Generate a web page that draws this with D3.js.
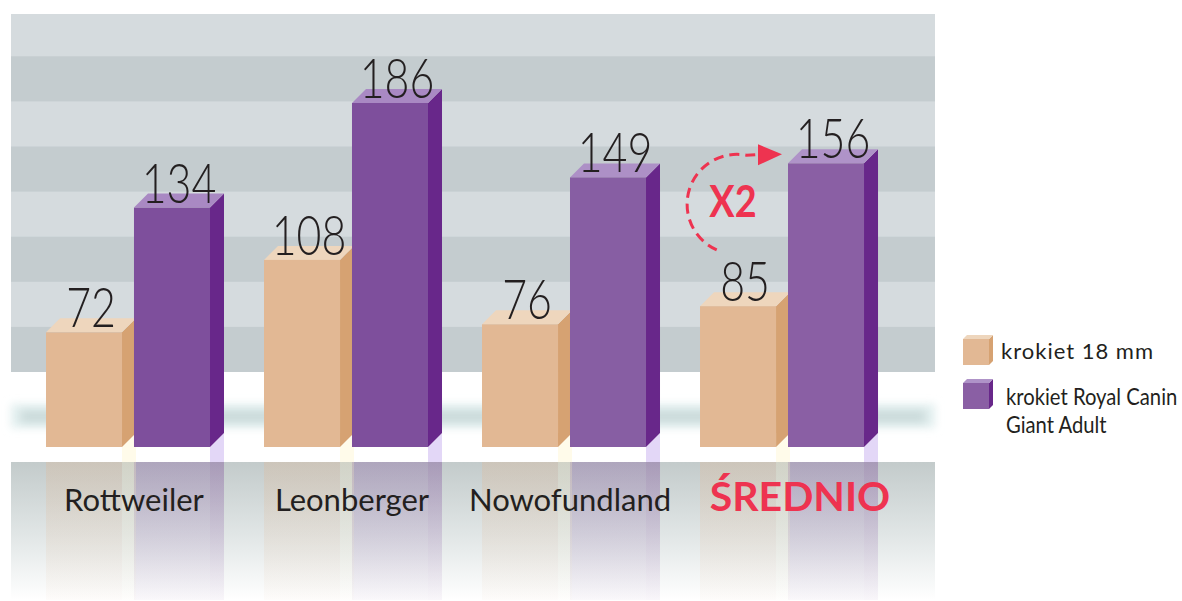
<!DOCTYPE html>
<html>
<head>
<meta charset="utf-8">
<script src="https://cdn.jsdelivr.net/npm/d3@7"></script>
<style>
  body { margin: 0; background: #fff; }
  text { font-family: Lato, "Open Sans", sans-serif; }
</style>
</head>
<body>
<div id="chart-area"></div>
<script>
// chart values
let categories = ["Rottweiler", "Leonberger", "Nowofundland", "ŚREDNIO"];
let series = ["krokiet 18 mm", "krokiet Royal Canin Giant Adult"];
let valuesSmall = [72, 108, 76, 85];     // krokiet 18 mm
let valuesRoyal = [134, 186, 149, 156];  // krokiet Royal Canin Giant Adult
let legendLines = [["krokiet 18 mm"], ["krokiet Royal Canin", "Giant Adult"]];
let multiplierLabel = "X2";

let width = 1182, height = 601;

// panel / floor layout
let panel = {left: 11, right: 935, top: 14, wallBottom: 372, floorTop: 462, bottom: 600};
let baseY = 447;   // where bars stand
let depth = 14;    // 3d offset of bars

let svg = d3.select("#chart-area").append("svg")
    .attr("width", width)
    .attr("height", height);

let defs = svg.append("defs");

// floor gradient
let floorGrad = defs.append("linearGradient").attr("id", "floor-grad")
    .attr("x1", 0).attr("y1", 0).attr("x2", 0).attr("y2", 1);
floorGrad.append("stop").attr("offset", "0%").attr("stop-color", "#c3cbcb");
floorGrad.append("stop").attr("offset", "55%").attr("stop-color", "#e2e7e7");
floorGrad.append("stop").attr("offset", "100%").attr("stop-color", "#ffffff");

function reflectGrad(id, color) {
    let g = defs.append("linearGradient").attr("id", id)
        .attr("x1", 0).attr("y1", 0).attr("x2", 0).attr("y2", 1);
    g.append("stop").attr("offset", "0%").attr("stop-color", color).attr("stop-opacity", 0.3);
    g.append("stop").attr("offset", "100%").attr("stop-color", color).attr("stop-opacity", 0.04);
}
reflectGrad("refl-tan", "#e2b894");
reflectGrad("refl-tan-side", "#f3e6c0");
reflectGrad("refl-purple", "#7e4f9c");
reflectGrad("refl-purple-side", "#6a2a8c");

defs.append("filter").attr("id", "blur")
    .attr("x", "-5%").attr("y", "-100%").attr("width", "110%").attr("height", "300%")
    .append("feGaussianBlur").attr("stdDeviation", 4);

// ---- background wall with stripes
let stripeH = 45.1;
let stripes = d3.range(0, 8).map(i => panel.wallBottom - (i + 1) * stripeH);
svg.append("rect")
    .attr("x", panel.left).attr("y", panel.top)
    .attr("width", panel.right - panel.left).attr("height", panel.wallBottom - panel.top)
    .attr("fill", "#d5dbde");
svg.selectAll(".stripe")
    .data(stripes.filter((d, i) => i % 2 === 0))
    .enter().append("rect")
    .attr("class", "stripe")
    .attr("x", panel.left)
    .attr("y", d => Math.max(d, panel.top))
    .attr("width", panel.right - panel.left)
    .attr("height", d => stripeH - Math.max(0, panel.top - d))
    .attr("fill", "#c4cccf");

// white floor band with a soft teal shadow line
svg.append("rect")
    .attr("x", panel.left).attr("y", 404)
    .attr("width", panel.right - panel.left).attr("height", 24)
    .attr("fill", "#e2efef")
    .attr("filter", "url(#blur)");
svg.append("rect")
    .attr("x", panel.left + 10).attr("y", 411)
    .attr("width", panel.right - panel.left - 20).attr("height", 11)
    .attr("fill", "#c9d9d9")
    .attr("filter", "url(#blur)");

// lower floor
svg.append("rect")
    .attr("x", panel.left).attr("y", panel.floorTop)
    .attr("width", panel.right - panel.left).attr("height", panel.bottom - panel.floorTop)
    .attr("fill", "url(#floor-grad)");

// ---- scales
let x0 = d3.scaleBand()
    .domain(categories)
    .range([46, 879])
    .paddingInner(0.179);

let x1 = d3.scaleBand()
    .domain(series)
    .range([0, 164])
    .paddingInner(0.136);

let y = d3.scaleLinear()
    .domain([15, 186])
    .range([baseY, 103]);

let bw = x1.bandwidth();

let barData = [];
categories.forEach((c, i) => {
    barData.push({cat: c, s: series[0], v: valuesSmall[i], i: i});
    barData.push({cat: c, s: series[1], v: valuesRoyal[i], i: i});
});

let purpleFront = ["#7e4f9c", "#7e4f9c", "#875ea3", "#8a5fa4"];
let purpleTop = ["#a989c3", "#a989c3", "#ad90c6", "#af93c8"];
let styles = {
    [series[0]]: {front: () => "#e2b894", side: "#d6a272", top: () => "#eed6bd",
                  refl: "url(#refl-tan)", reflSide: "url(#refl-tan-side)", gap: "#fffbea"},
    [series[1]]: {front: i => purpleFront[i], side: "#68278a", top: i => purpleTop[i],
                  refl: "url(#refl-purple)", reflSide: "url(#refl-purple-side)", gap: "#e3d7f7"}
};

let bx = d => x0(d.cat) + x1(d.s);

// reflections on the floor
let refl = svg.append("g").attr("class", "reflections");
refl.selectAll(".refl-front")
    .data(barData).enter().append("rect")
    .attr("x", d => bx(d)).attr("y", panel.floorTop)
    .attr("width", bw).attr("height", panel.bottom - panel.floorTop)
    .attr("fill", d => styles[d.s].refl);
refl.selectAll(".refl-side")
    .data(barData).enter().append("rect")
    .attr("x", d => bx(d) + bw).attr("y", panel.floorTop)
    .attr("width", depth).attr("height", panel.bottom - panel.floorTop)
    .attr("fill", d => styles[d.s].reflSide);
// light patch under the bar sides
refl.selectAll(".gap-side")
    .data(barData).enter().append("path")
    .attr("d", d => {
        let xr = bx(d) + bw;
        return `M${xr},${baseY}L${xr + depth},${baseY - depth}L${xr + depth},${panel.floorTop}L${xr},${panel.floorTop}Z`;
    })
    .attr("fill", d => styles[d.s].gap);

// ---- 3d bars
let bars = svg.selectAll(".bar")
    .data(barData).enter().append("g").attr("class", "bar");

bars.append("path")
    .attr("d", d => {
        let xr = bx(d) + bw, yt = y(d.v);
        return `M${xr},${baseY}L${xr},${yt}L${xr + depth},${yt - depth}L${xr + depth},${baseY - depth}Z`;
    })
    .attr("fill", d => styles[d.s].side);

bars.append("path")
    .attr("d", d => {
        let xl = bx(d), xr = xl + bw, yt = y(d.v);
        return `M${xl},${yt}L${xl + depth},${yt - depth}L${xr + depth},${yt - depth}L${xr},${yt}Z`;
    })
    .attr("fill", d => styles[d.s].top(d.i));

bars.append("rect")
    .attr("x", d => bx(d))
    .attr("y", d => y(d.v))
    .attr("width", bw)
    .attr("height", d => baseY - y(d.v))
    .attr("fill", d => styles[d.s].front(d.i));

// value labels
bars.append("text")
    .attr("transform", d => `translate(${bx(d) + bw / 2 + depth / 2},${y(d.v) - 5}) scale(0.78,1)`)
    .attr("text-anchor", "middle")
    .attr("font-size", 55)
    .attr("font-weight", 300)
    .attr("fill", "#231f20")
    .text(d => d.v);

// category labels
svg.selectAll(".cat-label")
    .data(categories).enter().append("text")
    .attr("class", "cat-label")
    .attr("x", (d, i) => x0(d) + 88 + (i === 3 ? 12 : 0))
    .attr("y", 511)
    .attr("text-anchor", "middle")
    .attr("font-size", (d, i) => i === 3 ? 41 : 31)
    .attr("font-weight", (d, i) => i === 3 ? 700 : 400)
    .attr("fill", (d, i) => i === 3 ? "#ee3350" : "#231f20")
    .text(d => d);

// ---- "X2" annotation on the average group
let avg = categories[3];
let tipX = x0(avg) + x1(series[1]) - 6;
let tipY = y(valuesRoyal[3]) - 9;
let startY = y(valuesSmall[3]) - 52;
let cy = (tipY + startY) / 2;
let r = (startY - tipY) / 2;
let cx = x0(avg) + 37;
let a0 = 114 * Math.PI / 180, a1 = 281 * Math.PI / 180;

let arcPath = d3.path();
arcPath.arc(cx, cy, r, a0, a1, false);
arcPath.lineTo(tipX - 22, tipY);

svg.append("path")
    .attr("d", arcPath.toString())
    .attr("fill", "none")
    .attr("stroke", "#ee3350")
    .attr("stroke-width", 3)
    .attr("stroke-dasharray", "10,6");

svg.append("path")
    .attr("d", `M${tipX},${tipY}L${tipX - 24},${tipY - 10}L${tipX - 24},${tipY + 11}Z`)
    .attr("fill", "#ee3350");

svg.append("text")
    .attr("transform", `translate(${cx - 4},${cy + 13}) scale(0.88,1)`)
    .attr("text-anchor", "middle")
    .attr("font-size", 43)
    .attr("font-weight", 700)
    .attr("fill", "#ee3350")
    .text(multiplierLabel);

// ---- legend
let legendY = [339, 383];
let legend = svg.selectAll(".legend-item")
    .data(series).enter().append("g")
    .attr("class", "legend-item")
    .attr("transform", (d, i) => `translate(963,${legendY[i]})`);

let cube = 26, cd = 4;
legend.append("path")
    .attr("d", `M${cube},${cube}L${cube},0L${cube + cd},${-cd}L${cube + cd},${cube - cd}Z`)
    .attr("fill", d => styles[d].side);
legend.append("path")
    .attr("d", `M0,0L${cd},${-cd}L${cube + cd},${-cd}L${cube},0Z`)
    .attr("fill", (d, i) => i === 0 ? "#eed6bd" : "#af93c8");
legend.append("rect")
    .attr("width", cube).attr("height", cube)
    .attr("fill", (d, i) => i === 0 ? "#e2b894" : "#8a5fa4");

// first entry: wider lettering, second entry: condensed two lines
legend.filter((d, i) => i === 0).append("text")
    .attr("x", 38).attr("y", 20)
    .attr("font-size", 22)
    .attr("letter-spacing", 1)
    .attr("fill", "#231f20")
    .text(legendLines[0][0]);

let t2 = legend.filter((d, i) => i === 1).append("text")
    .attr("transform", "translate(43,22) scale(0.88,1)")
    .attr("font-size", 23)
    .attr("fill", "#231f20");
legendLines[1].forEach((line, j) => {
    t2.append("tspan")
        .attr("x", 0)
        .attr("y", j * 28)
        .text(line);
});
</script>
</body>
</html>
